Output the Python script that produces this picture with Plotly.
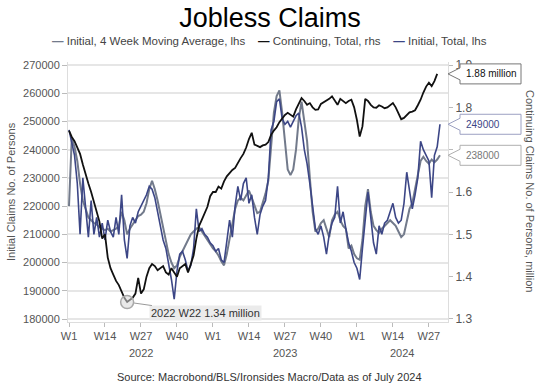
import plotly.graph_objects as go

# ---------------- data (weekly, starting 2022 W1) ----------------
START_YEAR = 2022
INITIAL_TOTAL = [
    247000, 243000, 238000, 228000, 210000, 230000, 218000, 209000, 222000, 210000,
    216000, 209000, 214000, 208000, 215000, 211000, 209000, 216000, 210000, 224000,
    208000, 201500, 213000, 216000, 214000, 218000, 220000, 222000, 224000, 227000,
    226000, 223000, 218000, 213000, 208000, 205000, 200000, 194000, 187000, 197000,
    203000, 204000, 201000, 197000, 199000, 205000, 219000, 211000, 212000, 210000,
    209000, 207000, 206000, 204000, 205000, 201000, 200000, 208000, 215000, 209000,
    220000, 227000, 222000, 228000, 230000, 221000, 224000, 216000, 210000, 217000,
    220000, 222000, 230000, 247000, 250000, 257000, 258000, 251000, 249000, 250000,
    248000, 250000, 252000, 253000, 248000, 240000, 235000, 228000, 220000, 212000,
    210000, 213000, 209000, 203000, 210000, 214000, 216000, 227000, 214000, 218000,
    212000, 207000, 204000, 200000, 198000, 194000, 205000, 215000, 225000, 216000,
    207000, 203000, 213000, 210000, 214000, 215000, 218000, 221000, 216000, 214000,
    215000, 221000, 232000, 225000, 219000, 224000, 230000, 243000, 240000, 238000,
    236000, 223000, 238000, 241000, 249000,
]
INITIAL_4WMA = [
    220000, 244000, 241000, 236000, 228000, 222000, 219000, 216000, 215000, 214000,
    213500, 212500, 212000, 211500, 212000, 211000, 211500, 212000, 213000, 218000,
    215000, 210000, 212000, 213500, 215000, 216500, 217000, 218000, 221000, 226000,
    229000, 226000, 222000, 217000, 212000, 207000, 203000, 200000, 198000, 199000,
    202000, 204000, 206000, 208500, 210000, 211000, 212000, 212500, 211000, 209500,
    208000, 206500, 205000, 204000, 202500, 200500, 199000, 203000, 208000, 214000,
    219000, 222000, 223000, 222000, 224000, 225500, 223000, 220000, 217500, 218000,
    221000, 224500, 229000, 240000, 253000, 259000, 261000, 253000, 242000, 233000,
    231000, 233000, 240000, 251000, 257000, 249000, 243000, 230000, 218000, 211000,
    212000, 214000, 215000, 212000, 209000, 215000, 217000, 218000, 215000, 213000,
    212000, 205000, 206000, 203000, 201500, 201000, 208000, 220000, 226000, 218000,
    213000, 211500, 210500, 212000, 213000, 214000, 215000, 214000, 213000, 211000,
    209000, 210000, 215000, 219000, 221000, 226000, 230000, 236000, 237500, 236000,
    235000, 236500, 235500, 236500, 238000,
]
CONTINUING_TOTAL = [  # million
    1.745, 1.730, 1.720, 1.705, 1.690, 1.665, 1.640, 1.620, 1.600, 1.575,
    1.548, 1.530, 1.490, 1.500, 1.445, 1.420, 1.405, 1.390, 1.380, 1.365,
    1.350, 1.340, 1.345, 1.350, 1.360, 1.397, 1.360, 1.370, 1.400, 1.420,
    1.430, 1.425, 1.415, 1.420, 1.425, 1.410, 1.405, 1.420, 1.410, 1.400,
    1.420, 1.425, 1.430, 1.410, 1.430, 1.450, 1.490, 1.520, 1.535, 1.550,
    1.565, 1.590, 1.600, 1.600, 1.613, 1.608, 1.625, 1.637, 1.645, 1.652,
    1.657, 1.670, 1.680, 1.690, 1.705, 1.725, 1.740, 1.712, 1.708, 1.706,
    1.710, 1.712, 1.718, 1.735, 1.745, 1.753, 1.765, 1.775, 1.782, 1.787,
    1.782, 1.778, 1.795, 1.810, 1.822, 1.815, 1.806, 1.810, 1.800, 1.794,
    1.795, 1.808, 1.812, 1.814, 1.820, 1.826, 1.815, 1.806, 1.820, 1.815,
    1.810, 1.815, 1.818, 1.800, 1.770, 1.731, 1.755, 1.820, 1.815, 1.806,
    1.800, 1.799, 1.805, 1.802, 1.798, 1.800, 1.806, 1.810, 1.800, 1.785,
    1.772, 1.775, 1.782, 1.788, 1.790, 1.793, 1.805, 1.818, 1.835, 1.849,
    1.858, 1.850, 1.862, 1.879,
]
TICK_WEEKS = [1, 14, 27, 40]
YEARS = [2022, 2023, 2024]
RIGHT_TICKS = [1.3, 1.4, 1.5, 1.6, 1.7, 1.8, 1.9]
RIGHT_TICK_TEXT = ["1.3", "1.4", "1.5", "1.6", "", "1.8", "1.9"]
TITLE = "Jobless Claims"
SOURCE = "Source: Macrobond/BLS/Ironsides Macro/Data as of July 2024"
NAME_MA = "Initial, 4 Week Moving Average, lhs"
NAME_CONT = "Continuing, Total, rhs"
NAME_INIT = "Initial, Total, lhs"

# ---------------- styling ----------------
FONT = "Liberation Sans, Arial, sans-serif"
C_GRAY = "#727a8b"
C_NAVY = "#3c4686"
C_BLACK = "#111111"
AX_TXT = "#555555"

W, H = 540, 387
ML, MR, MT, MB = 68, 92, 62, 65
PW, PH = W - ML - MR, H - MT - MB

def px_x(px):
    return (px - ML) / PW

def px_y(py):
    return (H - MB - py) / PH

idx_i = list(range(len(INITIAL_TOTAL)))
idx_c = list(range(len(CONTINUING_TOTAL)))

Y1 = [178936, 271064]
Y2 = [1.2929, 1.9071]
X_RANGE = [-0.36, 136.9]

fig = go.Figure()
fig.add_trace(go.Scatter(x=idx_i, y=INITIAL_4WMA, mode="lines", name=NAME_MA,
                         line=dict(color=C_GRAY, width=2), yaxis="y"))
fig.add_trace(go.Scatter(x=idx_c, y=CONTINUING_TOTAL, mode="lines", name=NAME_CONT,
                         line=dict(color=C_BLACK, width=1.8), yaxis="y2"))
fig.add_trace(go.Scatter(x=idx_i, y=INITIAL_TOTAL, mode="lines", name=NAME_INIT,
                         line=dict(color=C_NAVY, width=1.6), yaxis="y"))

# minimum of continuing claims
imin = min(idx_c, key=lambda i: CONTINUING_TOTAL[i])
vmin = CONTINUING_TOTAL[imin]
fig.add_trace(go.Scatter(x=[imin], y=[vmin], mode="markers", yaxis="y2", showlegend=False,
                         marker=dict(size=13, color="rgba(215,215,215,0.55)",
                                     line=dict(color="#a8a8a8", width=1.5))))

ticks, ticktext = [], []
for k, yr in enumerate(YEARS):
    for wk in TICK_WEEKS:
        pos = k * 52 + wk - 1
        if pos <= X_RANGE[1]:
            ticks.append(pos)
            ticktext.append(f"W{wk}")

annotations = []
# year labels centred on each year's visible span
for k, yr in enumerate(YEARS):
    a = max(k * 52, X_RANGE[0])
    b = min((k + 1) * 52, X_RANGE[1])
    annotations.append(dict(x=(a + b) / 2, y=px_y(353), xref="x", yref="paper", text=str(yr),
                            xanchor="center", yanchor="middle", showarrow=False,
                            font=dict(size=11, color=AX_TXT, family=FONT)))

# legend (manual)
sp = "&nbsp;" * 4
leg = (f"<span style='color:{C_GRAY}'><b>—</b></span> {NAME_MA}{sp}"
       f"<span style='color:{C_BLACK}'><b>—</b></span> {NAME_CONT}{sp}"
       f"<span style='color:{C_NAVY}'><b>—</b></span> {NAME_INIT}")
annotations.append(dict(x=px_x(269), y=px_y(41), xref="paper", yref="paper", text=leg,
                        xanchor="center", yanchor="middle", showarrow=False,
                        font=dict(size=11.5, color="#444", family=FONT)))
# axis titles
annotations.append(dict(x=px_x(11), y=px_y(192), xref="paper", yref="paper",
                        text="Initial Claims No. of Persons", textangle=-90, showarrow=False,
                        xanchor="center", yanchor="middle",
                        font=dict(size=11, color=AX_TXT, family=FONT)))
annotations.append(dict(x=px_x(530), y=px_y(191), xref="paper", yref="paper",
                        text="Continuing Claims No. of Persons, million", textangle=90,
                        xanchor="center", yanchor="middle", showarrow=False,
                        font=dict(size=11, color=AX_TXT, family=FONT)))
# source
annotations.append(dict(x=px_x(269), y=px_y(377), xref="paper", yref="paper", text=SOURCE,
                        xanchor="center", yanchor="middle", showarrow=False,
                        font=dict(size=11, color="#333", family=FONT)))
# min label
yr_min = START_YEAR + imin // 52
wk_min = imin % 52 + 1
annotations.append(dict(x=imin, y=vmin, xref="x", yref="y2",
                        text=f"{yr_min} W{wk_min} {vmin:.2f} million",
                        showarrow=True, arrowhead=0, arrowwidth=1, arrowcolor="#9a9a9a",
                        ax=78, ay=11, standoff=7, bgcolor="#ebebeb", borderpad=1,
                        font=dict(size=11, color="#333", family=FONT)))

# callouts at the right edge
shapes = []
callouts = [
    (CONTINUING_TOTAL[-1], "y2", f"{CONTINUING_TOTAL[-1]:.2f} million", "#111", "#777", (Y2[1] - Y2[0]) / PH),
    (INITIAL_TOTAL[-1], "y", f"{INITIAL_TOTAL[-1]:d}", C_NAVY, "#9ca1c2", (Y1[1] - Y1[0]) / PH),
    (INITIAL_4WMA[-1], "y", f"{INITIAL_4WMA[-1]:d}", "#777", "#b0b0b0", (Y1[1] - Y1[0]) / PH),
]
bx0, bx1, tip = px_x(460), px_x(521), px_x(448)
for val, yref, txt, tcol, bcol, upp in callouts:
    hh, ph = 10 * upp, 6 * upp
    path = (f"M {tip},{val} L {bx0},{val + ph} L {bx0},{val + hh} L {bx1},{val + hh} "
            f"L {bx1},{val - hh} L {bx0},{val - hh} L {bx0},{val - ph} Z")
    shapes.append(dict(type="path", path=path, xref="paper", yref=yref,
                       line=dict(color=bcol, width=1), fillcolor="white", layer="above"))
    annotations.append(dict(x=px_x(464), y=val, xref="paper", yref=yref, text=txt,
                            xanchor="left", yanchor="middle", showarrow=False,
                            font=dict(size=10, color=tcol, family=FONT)))

fig.update_layout(
    width=W, height=H, autosize=False,
    margin=dict(l=ML, r=MR, t=MT, b=MB),
    paper_bgcolor="white", plot_bgcolor="white",
    showlegend=False,
    font=dict(family=FONT, size=11, color=AX_TXT),
    title=dict(text=TITLE, x=0.5, xref="container", xanchor="center",
               y=1 - 18 / H, yref="container", yanchor="middle",
               font=dict(size=27, color="#000", family=FONT)),
    xaxis=dict(range=X_RANGE, tickmode="array", tickvals=ticks, ticktext=ticktext,
               ticks="outside", ticklen=4, tickcolor="#bbbbbb", showgrid=False,
               showline=True, linecolor="#dddddd", zeroline=False,
               tickfont=dict(size=11, color=AX_TXT)),
    yaxis=dict(range=Y1, tick0=180000, dtick=10000, tickformat="d",
               ticks="outside", ticklen=5, tickcolor="#bbbbbb",
               showgrid=True, gridcolor="#e6e6e6", gridwidth=2,
               showline=True, linecolor="#dddddd", zeroline=False,
               tickfont=dict(size=11, color=AX_TXT)),
    yaxis2=dict(range=Y2, tickmode="array", tickvals=RIGHT_TICKS, ticktext=RIGHT_TICK_TEXT,
                overlaying="y", side="right",
                ticks="outside", ticklen=4, tickcolor="#bbbbbb", showgrid=False,
                showline=True, linecolor="#dddddd", zeroline=False,
                tickfont=dict(size=12, color=AX_TXT)),
    annotations=annotations,
    shapes=shapes,
)

fig.write_html("out.html")
